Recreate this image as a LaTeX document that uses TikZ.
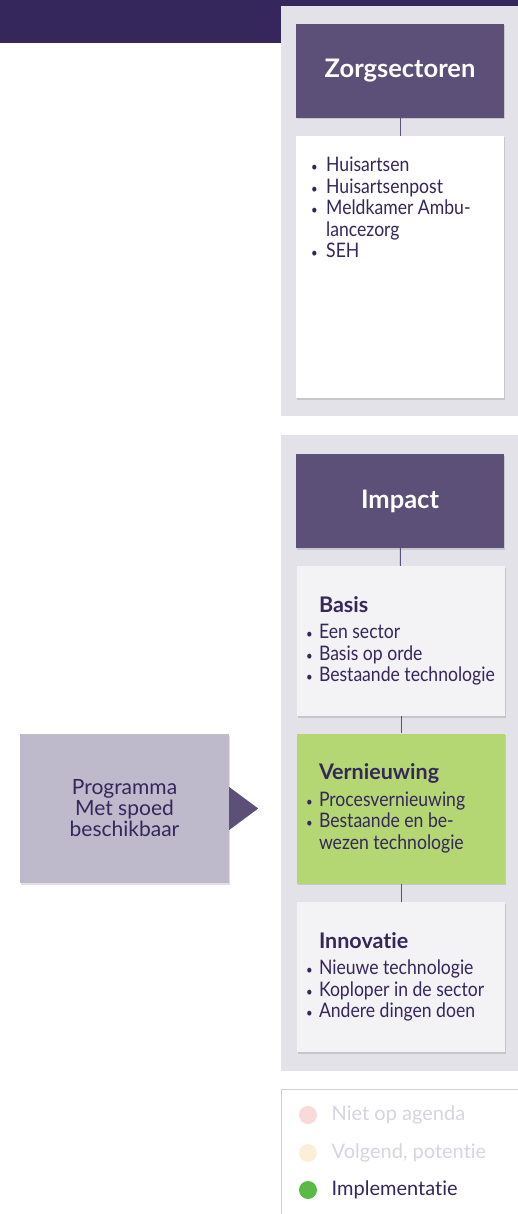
\documentclass[tikz,border=0pt]{standalone}
\usepackage{fontspec}
\setmainfont{Lato}[Ligatures=NoCommon]
\newfontfamily\condfont{Lato}[FakeStretch=0.88,Ligatures=NoCommon]
\usetikzlibrary{shadows}
\definecolor{bandc}{HTML}{35265C}
\definecolor{panelc}{HTML}{E3E2E9}
\definecolor{headc}{HTML}{5C5079}
\definecolor{cardc}{HTML}{F3F3F6}
\definecolor{greenc}{HTML}{B5D773}
\definecolor{progc}{HTML}{BEBACC}
\definecolor{textc}{HTML}{35265C}
\definecolor{legc}{HTML}{CFCCDB}
\definecolor{pinkc}{HTML}{F8DADA}
\definecolor{creamc}{HTML}{FBEFDA}
\definecolor{dotc}{HTML}{5BBA47}
\definecolor{fadec}{HTML}{D6D4DF}
\newcommand\bul{{\fontsize{13}{13}\selectfont\textbullet}}
\newcommand\itm[1]{\mbox{\makebox[11pt][l]{\hspace*{-2pt}\bul}#1}}
\newcommand\ind{\hspace*{11pt}}
\newcommand\ttl[1]{\ind{\rmfamily\bfseries\fontsize{21.5}{24}\selectfont #1}}
\tikzset{
  softshadow/.style={drop shadow={shadow xshift=1pt,shadow yshift=-1.5pt,opacity=0.12,fill=black}},
  head/.style={rectangle,fill=headc,text=white,minimum width=208pt,minimum height=94pt,
    inner sep=0pt,font=\fontsize{25.5}{28}\selectfont\bfseries,softshadow},
  card/.style={rectangle,fill=cardc,text=textc,minimum width=208pt,minimum height=150pt,
    inner xsep=11pt,inner ysep=0pt,text width=186pt,align=flush left,
    font=\fontsize{20}{21.5}\selectfont\condfont,softshadow},
  link/.style={draw=headc,line width=1pt},
  dot/.style={circle,minimum size=18pt,inner sep=0pt},
  lbl/.style={font=\fontsize{20}{22}\selectfont,label distance=11pt}
}
\begin{document}
\begin{tikzpicture}[x=1pt,y=-1pt]
  \useasboundingbox (0,0) rectangle (518,1214);
  \fill[bandc] (0,0) rectangle (518,43);
  \fill[panelc] (281,6) rectangle (530,416);
  \fill[panelc] (281,435) rectangle (530,1071);
  \draw[legc,line width=1pt] (281,1089) rectangle (530,1230);
  \path
    (400,71) node[head] (z0) {Zorgsectoren}
    (400,267) node[card,fill=white,minimum height=262pt] (z1) {}
    (400,501) node[head] (i0) {Impact}
    (401,641) node[card] (i1) {\ttl{Basis}\\[5pt]
      \itm{Een sector}\\ \itm{Basis op orde}\\ \itm{Bestaande technologie}}
    (401,808.5) node[card,fill=greenc] (i2) {\ttl{Vernieuwing}\\[5pt]
      \itm{Procesvernieuwing}\\ \itm{Bestaande en be-}\\ \ind\mbox{wezen technologie}}
    (401,977) node[card] (i3) {\ttl{Innovatie}\\[5pt]
      \itm{Nieuwe technologie}\\ \itm{Koploper in de sector}\\ \itm{Andere dingen doen}}
    (124.5,808.5) node[rectangle,fill=progc,text=textc,minimum width=209pt,minimum height=149pt,
      align=center,font=\fontsize{21}{21}\selectfont,softshadow] (prog) {Programma\\Met spoed\\beschikbaar};
  \node[anchor=north west,text=textc,align=left,inner sep=0pt,
    font=\fontsize{20}{21.5}\selectfont\condfont] (zl) at (311,157)
    {\makebox[15pt][l]{\bul}Huisartsen\\ \makebox[15pt][l]{\bul}Huisartsenpost\\
     \makebox[15pt][l]{\bul}Meldkamer Ambu-\\ \hspace*{15pt}lancezorg\\
     \makebox[15pt][l]{\bul}SEH};
  \fill[headc] (prog.east) ++(0,-21.5) -- ++(29,21.5) -- ++(-29,21.5) -- cycle;
  \begin{scope}[link]
    \draw (z0) to (z1);
    \draw (i0) to (i1);
    \draw (i1) to (i2);
    \draw (i2) to (i3);
  \end{scope}
  \path
    (308,1115) node[dot,fill=pinkc,label={[lbl,text=fadec]right:Niet op agenda}] (l1) {}
    (308,1153) node[dot,fill=creamc,label={[lbl,text=fadec]right:Volgend, potentie}] (l2) {}
    (308,1190) node[dot,fill=dotc,label={[lbl,text=textc]right:Implementatie}] (l3) {};
\end{tikzpicture}
\end{document}
